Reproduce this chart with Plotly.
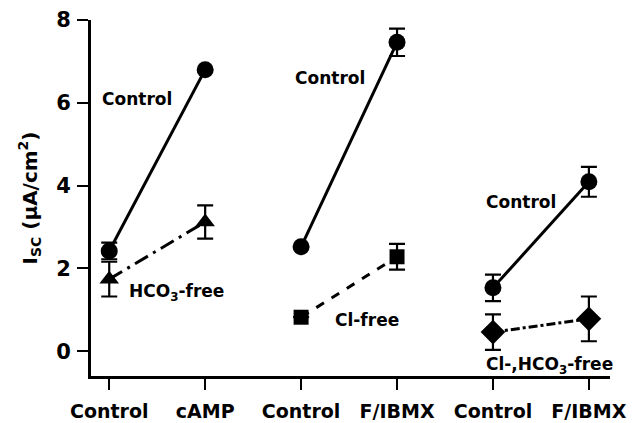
import plotly.graph_objects as go

# Category positions and tick labels
x_positions = [0, 1, 2, 3, 4, 5]
tick_labels = ["Control", "cAMP", "Control", "F/IBMX", "Control", "F/IBMX"]
y_ticks = [0, 2, 4, 6, 8]

# Series values (Isc, uA/cm2) and SEM
g1_x = [0, 1]
g1_control = [2.42, 6.80]
g1_control_err = [0.20, 0.0]
g1_hco3free = [1.74, 3.12]
g1_hco3free_err = [0.42, 0.40]

g2_x = [2, 3]
g2_control = [2.52, 7.46]
g2_control_err = [0.0, 0.33]
g2_clfree = [0.82, 2.28]
g2_clfree_err = [0.0, 0.31]

g3_x = [4, 5]
g3_control = [1.53, 4.09]
g3_control_err = [0.32, 0.36]
g3_clhco3free = [0.46, 0.78]
g3_clhco3free_err = [0.43, 0.54]

FONT = "DejaVu Sans"
BLACK = "black"

fig = go.Figure()

def add(x, y, err, symbol, dash, size):
    fig.add_trace(go.Scatter(
        x=x, y=y, mode="lines+markers",
        line=dict(color=BLACK, width=3, dash=dash),
        marker=dict(symbol=symbol, size=size, color=BLACK),
        error_y=dict(type="data", array=err, visible=True, color=BLACK, thickness=2.2, width=8),
        showlegend=False,
    ))

add(g1_x, g1_control, g1_control_err, "circle", "solid", 17)
add(g1_x, g1_hco3free, g1_hco3free_err, "triangle-up", "longdashdot", 17)
add(g2_x, g2_control, g2_control_err, "circle", "solid", 17)
add(g2_x, g2_clfree, g2_clfree_err, "square", "dash", 15)
add(g3_x, g3_control, g3_control_err, "circle", "solid", 17)
add(g3_x, g3_clhco3free, g3_clhco3free_err, "diamond", "dashdot", 19)

labels = [
    (0.29, 6.1, "Control"),
    (0.70, 1.41, "HCO<sub>3</sub>-free"),
    (2.30, 6.6, "Control"),
    (2.69, 0.75, "Cl-free"),
    (4.29, 3.6, "Control"),
    (4.59, -0.35, "Cl-,HCO<sub>3</sub>-free"),
]
for x, y, t in labels:
    fig.add_annotation(x=x, y=y, text=t, showarrow=False,
                       font=dict(family=FONT, size=17, color=BLACK, weight="bold"),
                       xanchor="center", yanchor="middle")

fig.update_layout(
    width=641, height=423,
    margin=dict(l=91, r=31, t=20, b=47),
    paper_bgcolor="white", plot_bgcolor="white",
    font=dict(family=FONT, color=BLACK),
    xaxis=dict(
        range=[-0.19, 5.22], tickvals=x_positions, ticktext=tick_labels,
        showgrid=False, zeroline=False, showline=True, linecolor=BLACK, linewidth=3,
        ticks="outside", ticklen=11, tickwidth=2, tickcolor=BLACK,
        tickfont=dict(family=FONT, size=19, color=BLACK, weight="bold"),
        ticklabelstandoff=5, automargin=False,
    ),
    yaxis=dict(
        range=[-0.6, 8.0], tickvals=y_ticks, ticktext=[str(v) for v in y_ticks],
        showgrid=False, zeroline=False, showline=True, linecolor=BLACK, linewidth=3,
        ticks="outside", ticklen=11, tickwidth=2, tickcolor=BLACK,
        tickfont=dict(family=FONT, size=21, color=BLACK, weight="bold"),
        ticklabelstandoff=2, automargin=False,
        title=dict(text="I<sub>SC</sub> (μA/cm<sup>2</sup>)",
                   font=dict(family=FONT, size=20, color=BLACK, weight="bold"), standoff=14),
    ),
)

fig.write_html("out.html")
